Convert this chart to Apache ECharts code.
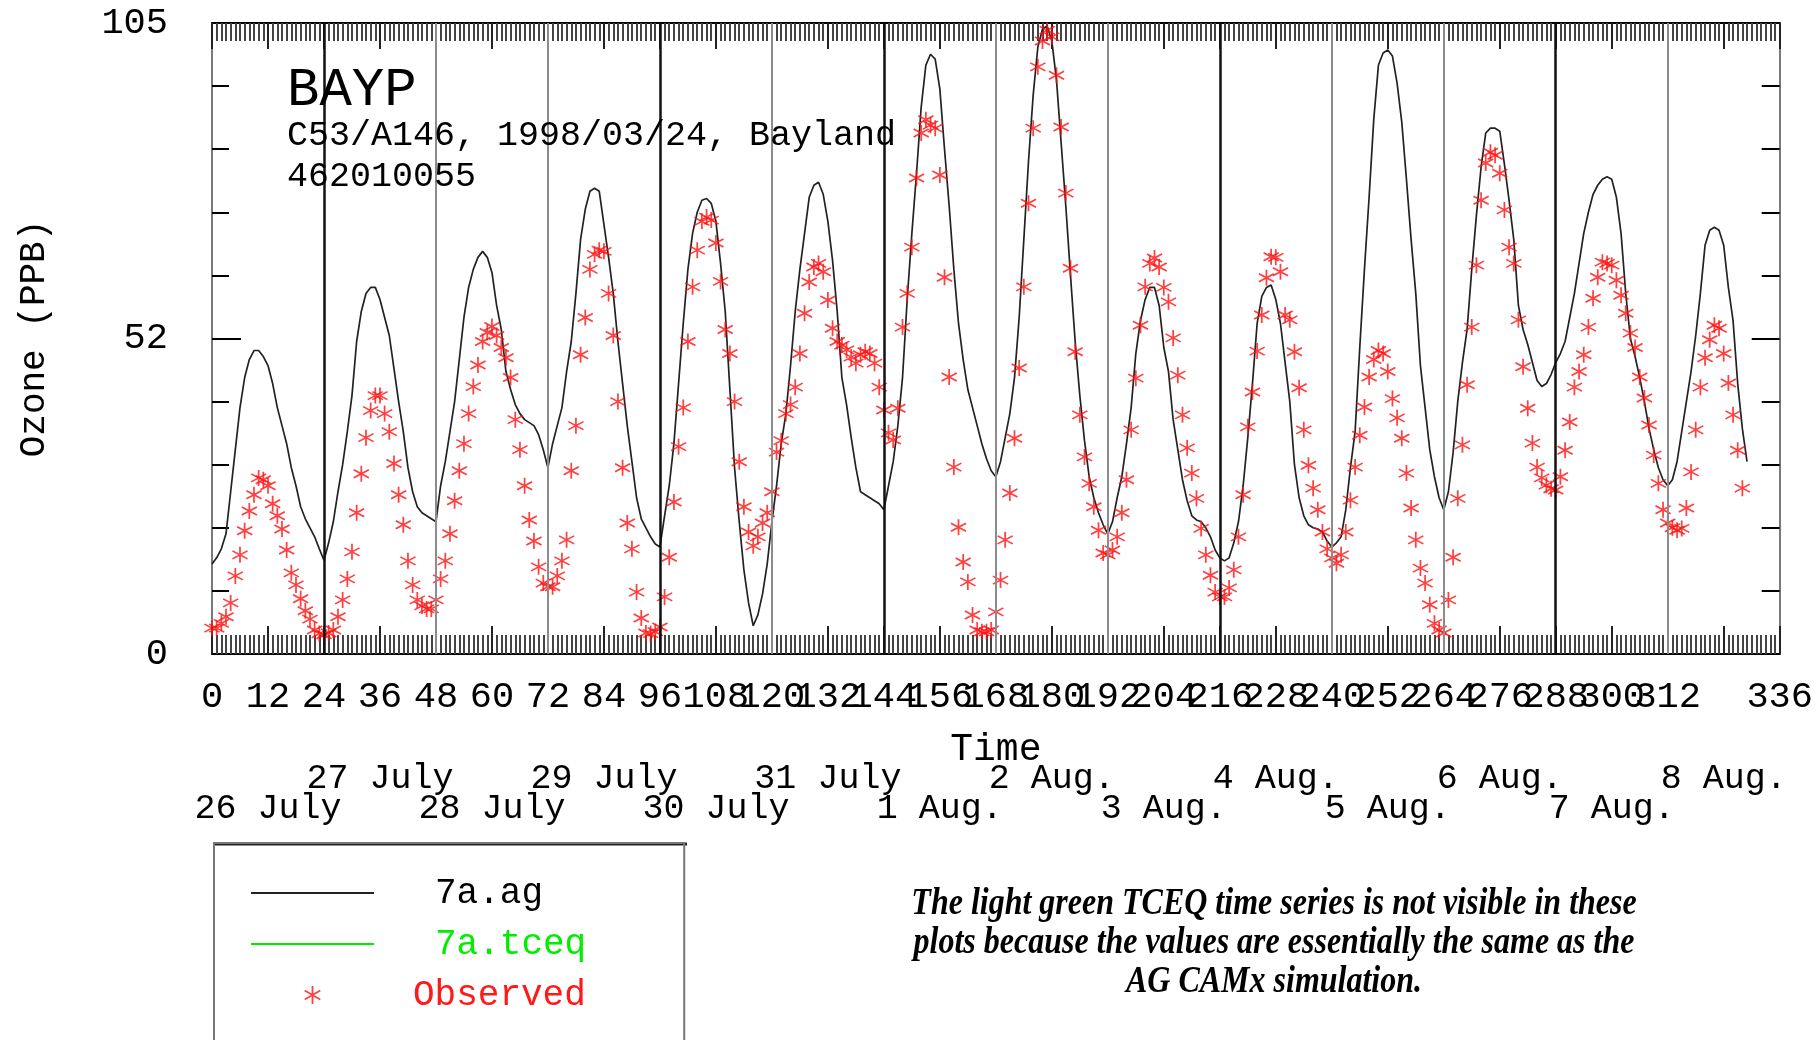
<!DOCTYPE html>
<html>
<head>
<meta charset="utf-8">
<script src="https://cdn.jsdelivr.net/npm/echarts@6/dist/echarts.min.js"></script>
<style>
html,body{margin:0;padding:0;background:#fff;}
#chart{width:1816px;height:1040px;}
</style>
</head>
<body>
<div id="chart"></div>
<script>
// ---- data (hourly, hour 0 = 26 July 00:00) ----
const agValues = [
15,16,17.5,20,27,34,41,46,49,50.5,50.5,49.5,48,45,41,38,35,31,28,24.5,22.5,21,19.5,17.5,
15.6,18.5,22,27,31.5,37,43,52,57,60,61,61,59,56,53,47.5,42,37,31,27,24.5,23.5,23,22.5,
22,28,32,37,42,49,56,61,64,66,67,66,63.5,58,54,47,44,41.5,40,39,38.5,38,36.5,34,
31,35,38,41,47,52,60,69,74,77,77.5,77,71.5,66,60,52,45,38,32,26,22.5,21,19.5,18.3,
17.8,23,28,35,45,55,64,70,73.5,75.5,75.8,75,72,65,57,44,31,22,14,8.5,4.7,6.5,10,15,
22,28,35,40,48,57,64,70,76,78,78.5,76.5,72,65.5,57,46,41.5,36,31,27,26.5,26,25.5,25,
24,28,32,38,46,59,70,80,91,98,99.8,99,94,84,74.5,64,55,49,44,41,38,35,32.5,30.5,
29.5,32,36,40,46,56,69,82,93,101,104,104.5,102,95.5,85,74.5,63,52,43,35.5,29.5,26,23.5,21.5,
20,22,26,29.5,35,41,50,55.5,59,61,61,58,51,47,39,34,29,25.5,23,22.3,22,21,19.5,17.3,
16,15.5,16,18.5,22,28,36,45,55,59.5,61,61.4,59,55,48.5,42,31.5,26,23,21.5,21,20.8,20.3,18.8,
17.8,18.5,19.5,24,31,37,51,64,76,89,98,100,100.5,99.5,95,88.5,79,69,60,48,41,34,29.5,26,
24,27,33.5,42,48.5,54,64,73,81,86.7,87.5,87.5,87,81.5,75.5,69,58,54,51.5,48.5,45.5,44.5,45,46.5,
48.5,50,52,56,60,65,70,73.5,76.5,78,79,79.4,79,76,70,60,52.5,49.5,46,42,37.5,34,31,29,
28,29,32,37,42,47,53,60,68,70.5,71,70.5,68,61,55.5,45,37.5,32
];
const tceqValues = []; // TCEQ run hidden under AG line (values essentially identical)
const obsValues = [
4.3,4.3,5.1,6.2,8.5,13,16.5,20.5,23.8,26.5,29.3,29,28,25,23,20.8,17.3,13.5,11.5,9.2,7.2,5.8,4,3.4,
3.2,3.5,4,6.2,9,12.5,17,23.5,30,36,40.5,43,43,40,37,31.7,26.5,21.5,15.5,11.5,9,8,7.5,7.5,
9,12.5,15.5,20,25.5,30.5,35,40,44.5,48.1,52,53.5,54.5,53,51,49.3,46,39,34,28,22.3,18.8,14.5,11.8,
11.2,11.2,13,15.5,19,30.5,38,49.8,56,64,66.5,67.2,67,60,53,42,31,21.8,17.5,10.3,6,3.5,3.4,3.7,
4.5,9.5,16.1,25.3,34.5,41,52,61.1,67.2,72,72.7,72.2,68.4,62,54,50,42,32,24.5,20.3,18,19.5,21.8,23.5,
27,33.6,35.5,40,41.5,44.4,50,56.7,61.9,64.4,65,63.6,58.9,54.2,52,51.4,50.6,49.4,48.4,49.8,50.3,50,48.4,44.4,
40.6,36.8,35.6,40.9,54.4,60,67.7,79.2,86.7,88.9,88,87.5,79.7,62.7,46.1,31.1,21.1,15.3,12,6.5,4,3.7,3.7,4,
7,12.3,19,26.8,35.9,47.6,61.1,75,87.5,97.7,102,103.8,102.7,96.3,87.7,76.7,64.2,50.3,39.8,32.8,28.4,24.5,20.6,16.8,
16.5,17.3,19.5,23.5,29,37.3,45.9,54.7,61.1,65,65.9,64.4,61,58.6,52.6,46.4,39.8,34.3,30.1,25.9,20.9,16.5,13.1,10.3,
9.5,9.5,11,14,19.5,26.5,37.8,43.6,50.4,56.4,62.6,66.1,66,63.6,56.4,55.6,50.3,44.3,37.3,31.4,27.6,24,20.3,17.5,
16,15.1,16.5,20.3,25.6,31.1,36.4,41.1,46.1,49,50.5,50,47,42.5,39.3,35.9,30.1,24.3,19,14.3,11.8,8.2,5.1,4,
3.5,9,16.1,25.9,34.8,44.8,54.4,64.7,75.5,81.7,83.5,83,80,73.9,67.7,65,55.6,47.8,40.9,35.1,31.1,29.3,28.1,27.5,
27.3,29.5,33.9,38.6,44.4,47,49.8,54.4,59.2,62.7,65.2,65,64.7,62.2,59.7,56.7,53.4,51,46.1,42.6,38.1,33.1,28.4,24,
21.8,21,20.6,20.9,24.3,30.3,37.3,44.4,49.3,52.3,54.7,54.2,50,45.1,39.8,33.9,27.6
];
const xTickLabels = ['0','12','24','36','48','60','72','84','96','108','120','132','144','156','168','180','192','204','216','228','240','252','264','276','288','300','312','324','336'];
const yTickLabels = ['0','52','105'];
const dateLabels = ['26 July','27 July','28 July','29 July','30 July','31 July','1 Aug.','2 Aug.','3 Aug.','4 Aug.','5 Aug.','6 Aug.','7 Aug.','8 Aug.'];
const dayBoundaries = [24,48,72,96,120,144,168,192,216,240,264,288,312];
const darkBoundaries = [24,96,144,216,288];
const seriesNames = ['7a.ag','7a.tceq','Observed'];
const titleText = 'BAYP';
const subText = 'C53/A146, 1998/03/24, Bayland\n462010055';
const noteLines = ['The light green TCEQ time series is not visible in these','plots because the values are essentially the same as the','AG CAMx simulation.'];

// ---- chart ----
const MONO = '"Liberation Mono", "DejaVu Sans Mono", monospace';
const starPath = 'path://M45,0 L55,0 L55,100 L45,100 Z M4.2,29.3 L9.2,20.7 L95.8,70.7 L90.8,79.3 Z M9.2,79.3 L4.2,70.7 L90.8,20.7 L95.8,29.3 Z';
const linePath = 'path://M0,0 L120,0 L120,2 L0,2 Z';

const chart = echarts.init(document.getElementById('chart'), null, {renderer: 'canvas'});

const commonX = {
  type: 'value', min: 0, max: 336, interval: 12,
  splitLine: {show: false}
};

const option = {
  animation: false,
  backgroundColor: '#fff',
  title: {
    text: titleText, subtext: subText,
    left: 287, top: 64, padding: 0, itemGap: -3,
    textStyle: {fontFamily: MONO, fontSize: 54, fontWeight: 'normal', color: '#000'},
    subtextStyle: {fontFamily: MONO, fontSize: 35, color: '#000', lineHeight: 41}
  },
  grid: {left: 212, right: 35, top: 23, bottom: 386, containLabel: false},
  xAxis: [
    Object.assign({}, commonX, {
      position: 'bottom',
      name: 'Time', nameLocation: 'middle', nameGap: 77,
      nameTextStyle: {fontFamily: MONO, fontSize: 38, color: '#000'},
      axisLine: {show: true, onZero: false, lineStyle: {color: '#000', width: 2}},
      axisTick: {show: true, inside: true, length: 28, lineStyle: {color: '#222', width: 2}},
      minorTick: {show: true, splitNumber: 12, length: 19, lineStyle: {color: '#444', width: 2}},
      axisLabel: {
        show: true, showMinLabel: true, showMaxLabel: true, margin: 25,
        fontFamily: MONO, fontSize: 37, color: '#000',
        formatter: (v, i) => xTickLabels[Math.round(v / 12)]
      }
    }),
    Object.assign({}, commonX, {
      position: 'bottom',
      axisLine: {show: false, onZero: false}, axisTick: {show: false},
      axisLabel: {
        show: true, showMinLabel: true, showMaxLabel: true, margin: 110,
        fontFamily: MONO, fontSize: 35, color: '#000', lineHeight: 30,
        formatter: (v) => {
          if (v % 24 !== 12) return '';
          const k = (v - 12) / 24;
          return (k % 2 === 1) ? (dateLabels[k] + '\n ') : (' \n' + dateLabels[k]);
        }
      }
    }),
    Object.assign({}, commonX, {
      position: 'top',
      axisLine: {show: true, onZero: false, lineStyle: {color: '#000', width: 2}},
      axisTick: {show: true, inside: true, length: 26, lineStyle: {color: '#222', width: 2}},
      minorTick: {show: true, splitNumber: 12, length: 18, lineStyle: {color: '#444', width: 2}},
      axisLabel: {show: false}
    })
  ],
  yAxis: [
    {
      type: 'value', min: 0, max: 105, interval: 52.5, position: 'left',
      name: 'Ozone (PPB)', nameLocation: 'middle', nameGap: 160,
      nameTextStyle: {fontFamily: MONO, fontSize: 36, color: '#000'},
      axisLine: {show: true, onZero: false, lineStyle: {color: '#7a7a7a', width: 2}},
      axisTick: {show: true, inside: true, length: 29, lineStyle: {color: '#000', width: 2}},
      minorTick: {show: true, splitNumber: 5, length: 17, lineStyle: {color: '#000', width: 2}},
      splitLine: {show: false},
      axisLabel: {
        margin: 44, fontFamily: MONO, fontSize: 37, color: '#000',
        formatter: (v) => yTickLabels[Math.round(v / 52.5)]
      }
    },
    {
      type: 'value', min: 0, max: 105, interval: 52.5, position: 'right',
      axisLine: {show: true, onZero: false, lineStyle: {color: '#7a7a7a', width: 2}},
      axisTick: {show: true, inside: true, length: 28, lineStyle: {color: '#000', width: 2}},
      minorTick: {show: true, splitNumber: 5, length: 18, lineStyle: {color: '#000', width: 2}},
      splitLine: {show: false},
      axisLabel: {show: false}
    }
  ],
  legend: {
    orient: 'vertical', left: 214, top: 843, height: 320,
    padding: [28, 98, 60, 37], itemGap: 7, itemWidth: 123, itemHeight: 18,
    borderColor: '#777', borderWidth: 2, selectedMode: false,
    textStyle: {fontFamily: MONO, fontSize: 36, lineHeight: 44},
    data: [
      {name: seriesNames[0], icon: linePath, textStyle: {color: '#000', padding: [0, 0, 0, 56]}},
      {name: seriesNames[1], icon: linePath, textStyle: {color: '#00ee00', padding: [0, 0, 0, 56]}},
      {name: seriesNames[2], icon: starPath, textStyle: {color: '#ff1a1a', padding: [0, 0, 0, 34]}}
    ]
  },
  graphic: [
    {
      type: 'line', silent: true,
      shape: {x1: 213, y1: 844, x2: 687, y2: 844},
      style: {stroke: '#222', lineWidth: 3}
    },
    {
      type: 'text', x: 1274, y: 885, scaleY: 1.18, silent: true,
      style: {
        text: noteLines.join('\n'), x: 0, y: 0, align: 'center', verticalAlign: 'top',
        fontFamily: '"Liberation Serif", "Times New Roman", serif', fontStyle: 'italic', fontWeight: 'bold',
        fontSize: 32, lineHeight: 33, fill: '#000'
      }
    }
  ],
  series: [
    {
      name: seriesNames[1], type: 'line', xAxisIndex: 0, yAxisIndex: 0,
      data: tceqValues, showSymbol: false, color: '#00ee00',
      lineStyle: {color: '#00ee00', width: 1.6}
    },
    {
      name: seriesNames[0], type: 'line', xAxisIndex: 0, yAxisIndex: 0,
      data: agValues.map((v, i) => [i, v]), showSymbol: false, color: '#222',
      lineStyle: {color: '#222', width: 1.7}, z: 3,
      markLine: {
        silent: true, symbol: ['none', 'none'], label: {show: false},
        data: dayBoundaries.map(h => ({
          xAxis: h,
          lineStyle: darkBoundaries.includes(h)
            ? {color: '#111', width: 2.5, type: 'solid'}
            : {color: '#8c8c8c', width: 2, type: 'solid'}
        }))
      }
    },
    {
      name: seriesNames[2], type: 'scatter', xAxisIndex: 0, yAxisIndex: 0,
      data: obsValues.map((v, i) => [i, v]),
      symbol: starPath, symbolSize: 16, color: '#ff1010',
      itemStyle: {color: '#ff1010'}, z: 4
    }
  ]
};
chart.setOption(option);
</script>
</body>
</html>
